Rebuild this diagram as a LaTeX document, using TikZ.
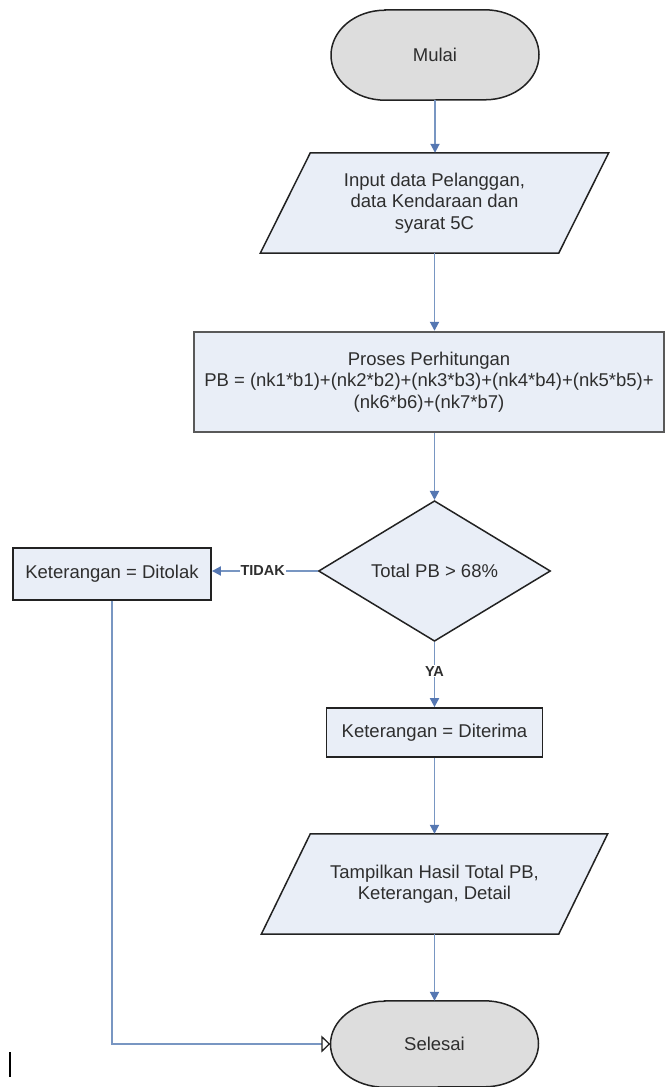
\documentclass[tikz,border=0pt]{standalone}
\usepackage{fontspec}
\setmainfont{Liberation Sans}
\usetikzlibrary{shapes.geometric,arrows.meta,calc,backgrounds}
\definecolor{txt}{HTML}{2E2E2E}
\definecolor{boxfill}{HTML}{E9EEF7}
\definecolor{termfill}{HTML}{DDDDDD}
\definecolor{conn}{HTML}{7896C2}
\definecolor{tipc}{HTML}{5577B2}
\definecolor{edge}{HTML}{222222}
\begin{document}
\begin{tikzpicture}[x=1pt,y=1pt,
  every node/.style={font=\fontsize{18.5}{21.5}\selectfont, text=txt, align=center},
  termnode/.style={rectangle, minimum width=208pt, minimum height=90pt, inner sep=0pt},
  ionode/.style={rectangle, minimum width=298pt, minimum height=100pt, inner sep=0pt},
  procbox/.style={rectangle, draw=edge!75, line width=2.4pt, fill=boxfill, minimum width=470pt, minimum height=100pt, inner sep=0pt},
  resbox/.style={rectangle, draw=edge, line width=1.8pt, fill=boxfill, inner sep=0pt},
  decision/.style={diamond, draw=edge, line width=1.5pt, fill=boxfill, minimum width=232pt, minimum height=126pt, inner sep=0pt},
  shapeline/.style={draw=edge, line width=1.5pt},
  flow/.style={draw=conn, line width=1.9pt, -{Triangle[length=9pt,width=9pt,fill=tipc,color=tipc]}},
  loopflow/.style={draw=conn, line width=1.9pt, -{Triangle[open,length=9pt,width=17pt,color=edge,line width=1.3pt]}},
  flowlabel/.style={font=\bfseries\fontsize{14.5}{16}\selectfont, fill=white, inner sep=1pt}
]
\useasboundingbox (0,0) rectangle (666,-1087);

% nodes
\node[termnode] (mulai) at (435,-55) {Mulai};
\node[ionode] (input) at (434.5,-203) {Input data Pelanggan,\\data Kendaraan dan\\syarat 5C};
\node[procbox] (proc) at (429,-382) {Proses Perhitungan\\PB = (nk1*b1)+(nk2*b2)+(nk3*b3)+(nk4*b4)+(nk5*b5)+\\(nk6*b6)+(nk7*b7)};
\node[decision] (dec) at (434.5,-571) {Total PB > 68\%};
\node[resbox, minimum width=198pt, minimum height=52pt] (tolak) at (112,-574) {Keterangan = Ditolak};
\node[resbox, minimum width=216pt, minimum height=49pt] (terima) at (434.5,-732.5) {Keterangan = Diterima};
\node[ionode, minimum width=297pt] (output) at (434.5,-884) {Tampilkan Hasil Total PB,\\Keterangan, Detail};
\node[termnode, minimum height=86pt] (selesai) at (434.5,-1044) {Selesai};

% shapes behind text
\begin{scope}[on background layer]
\path[shapeline, fill=termfill] ($(mulai.north)+(-50,0)$) -- ($(mulai.north)+(50,0)$)
  arc[start angle=90,end angle=-90,x radius=54,y radius=45]
  -- ($(mulai.south)+(-50,0)$)
  arc[start angle=270,end angle=90,x radius=54,y radius=45] -- cycle;
\path[shapeline, fill=termfill] ($(selesai.north)+(-50,0)$) -- ($(selesai.north)+(50,0)$)
  arc[start angle=90,end angle=-90,x radius=54,y radius=43]
  -- ($(selesai.south)+(-50,0)$)
  arc[start angle=270,end angle=90,x radius=54,y radius=43] -- cycle;
\path[shapeline, fill=boxfill] ($(input.north west)+(25,0)$) -- ($(input.north east)+(25,0)$)
  -- ($(input.south east)+(-25,0)$) -- ($(input.south west)+(-25,0)$) -- cycle;
\path[shapeline, fill=boxfill] ($(output.north west)+(24.5,0)$) -- ($(output.north east)+(24.5,0)$)
  -- ($(output.south east)+(-24.5,0)$) -- ($(output.south west)+(-24.5,0)$) -- cycle;
\end{scope}

% connectors
\draw[flow] (mulai.south) -- (mulai.south |- input.north);
\draw[flow] (input.south) -- (input.south |- proc.north);
\draw[flow] (dec.north |- proc.south) -- (dec.north);
\draw[flow] (dec.west) -- (dec.west -| tolak.east) node[flowlabel, pos=0.52] {TIDAK};
\draw[flow] (dec.south) -- (terima.north) node[flowlabel, pos=0.45] {YA};
\draw[flow] (terima.south) -- (terima.south |- output.north);
\draw[flow] (output.south) -- (output.south |- selesai.north);
\draw[loopflow] (tolak.south) |- (selesai.west);

% stray bar at lower left
\fill[black] (8.8,-1052) rectangle (11.2,-1077);
\end{tikzpicture}
\end{document}
